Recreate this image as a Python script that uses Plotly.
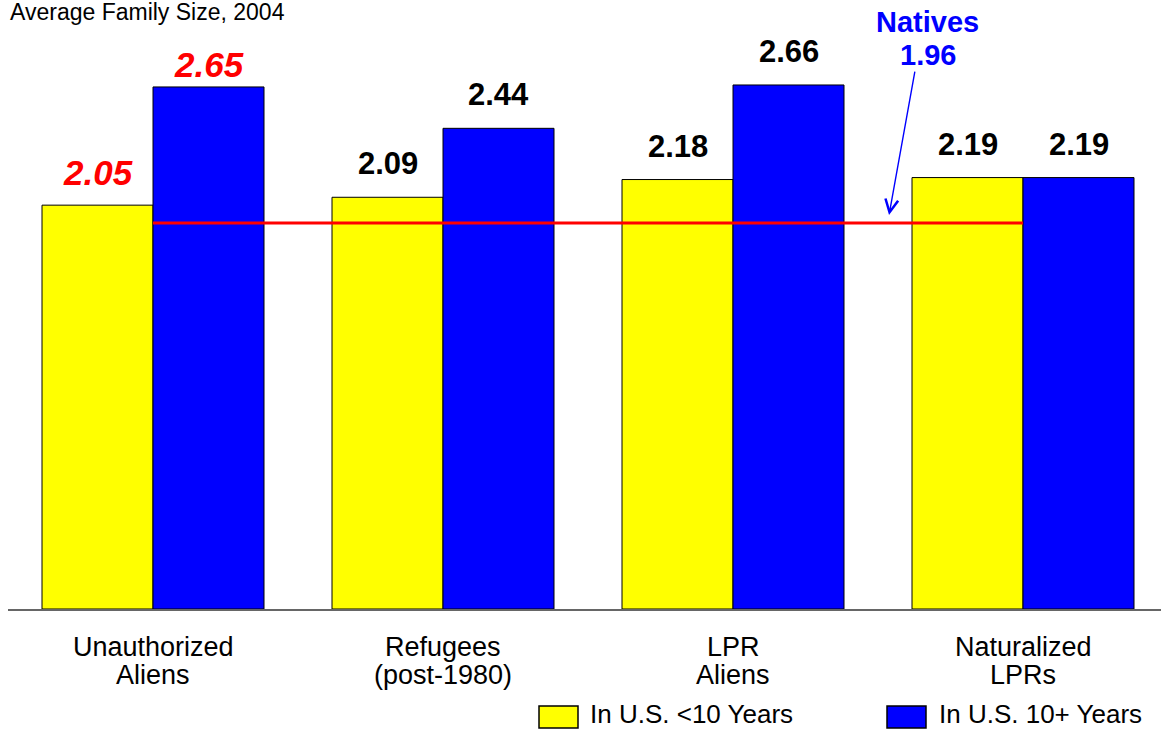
import plotly.graph_objects as go

categories = ["Unauthorized Aliens", "Refugees (post-1980)", "LPR Aliens", "Naturalized LPRs"]
label_line1 = ["Unauthorized", "Refugees", "LPR", "Naturalized"]
label_line2 = ["Aliens", "(post-1980)", "Aliens", "LPRs"]
under10 = [2.05, 2.09, 2.18, 2.19]
over10 = [2.65, 2.44, 2.66, 2.19]
natives_value = 1.96
series_names = ["In U.S. <10 Years", "In U.S. 10+ Years"]
title_text = "Average Family Size, 2004"

YELLOW = "#ffff00"
BLUE = "#0000ff"
RED = "#ff0000"
FONT = "Arial, Liberation Sans, sans-serif"
BARGAP = 68 / 290

fig = go.Figure()
fig.add_trace(go.Bar(x=categories, y=under10, name=series_names[0],
                     marker=dict(color=YELLOW, line=dict(color="black", width=1))))
fig.add_trace(go.Bar(x=categories, y=over10, name=series_names[1],
                     marker=dict(color=BLUE, line=dict(color="black", width=1))))
# Natives reference line from first to last category center
fig.add_trace(go.Scatter(x=[categories[0], categories[-1]], y=[natives_value, natives_value],
                         mode="lines", line=dict(color=RED, width=3), showlegend=False,
                         hoverinfo="skip"))


def px_to_xp(px):
    return (px - 8) / 1153


def py_to_yp(py):
    return (609 - py) / 591


annotations = []
half = (1 - BARGAP) / 4
# value labels
for i, cat in enumerate(categories):
    for j, (vals, off) in enumerate([(under10, -half), (over10, half)]):
        v = vals[i]
        if i == 0:
            txt = f"<b><i>{v:.2f}</i></b>"
            col = RED
            size = 35
            ysh = 11 if j == 0 else 1
        else:
            txt = f"<b>{v:.2f}</b>"
            col = "black"
            size = 31
            ysh = 14
        annotations.append(dict(x=i + off, y=v, xref="x", yref="y", text=txt,
                                showarrow=False, yanchor="bottom", yshift=ysh,
                                font=dict(family=FONT, size=size, color=col)))

# category labels (two lines, tight spacing)
for i, cat in enumerate(categories):
    annotations.append(dict(x=i, y=py_to_yp(647), xref="x", yref="paper", text=label_line1[i],
                            showarrow=False, yanchor="middle",
                            font=dict(family=FONT, size=27, color="black")))
    annotations.append(dict(x=i, y=py_to_yp(675), xref="x", yref="paper", text=label_line2[i],
                            showarrow=False, yanchor="middle",
                            font=dict(family=FONT, size=27, color="black")))

# Natives label
annotations.append(dict(x=2.672, y=(609 - 22) / 197, xref="x", yref="y", text="<b>Natives</b>",
                        showarrow=False, font=dict(family=FONT, size=29, color=BLUE)))
annotations.append(dict(x=2.672, y=(609 - 55) / 197, xref="x", yref="y",
                        text=f"<b>{natives_value:.2f}</b>",
                        showarrow=False, font=dict(family=FONT, size=29, color=BLUE)))
annotations.append(dict(x=2.538, y=2.0, xref="x", yref="y", ax=2.628, ay=2.736,
                        axref="x", ayref="y", text="", showarrow=True,
                        arrowhead=5, arrowsize=1.8, arrowwidth=1.4, arrowcolor=BLUE))

# title
annotations.append(dict(x=0, y=py_to_yp(12), xref="paper", yref="paper", text=title_text,
                        showarrow=False, xanchor="left", yanchor="middle",
                        font=dict(family=FONT, size=23, color="black")))

# legend (manual)
shapes = []
legend_items = [
    (YELLOW, series_names[0], 539, 578, 589),
    (BLUE, series_names[1], 887, 926, 938),
]
for col, name, x0, x1, tx in legend_items:
    shapes.append(dict(type="rect", xref="paper", yref="paper",
                       x0=px_to_xp(x0), x1=px_to_xp(x1), y0=py_to_yp(728), y1=py_to_yp(706),
                       fillcolor=col, line=dict(color="black", width=1.5)))
    annotations.append(dict(x=px_to_xp(tx), y=py_to_yp(714), xref="paper", yref="paper",
                            text=name, showarrow=False, xanchor="left", yanchor="middle",
                            borderpad=0,
                            font=dict(family=FONT, size=26, color="black")))

fig.update_layout(
    width=1161, height=730,
    margin=dict(l=8, r=0, t=18, b=121),
    paper_bgcolor="white", plot_bgcolor="white",
    barmode="group", bargap=BARGAP, bargroupgap=0,
    showlegend=False,
    annotations=annotations, shapes=shapes,
    font=dict(family=FONT, color="black"),
)
fig.update_xaxes(range=[-0.5, -0.5 + 1153 / 290], tickvals=categories,
                 showticklabels=False,
                 showline=True, linecolor="#666666", linewidth=2, ticks="",
                 showgrid=False, zeroline=False)
fig.update_yaxes(range=[0, 3], visible=False, showgrid=False, zeroline=False)

fig.write_html("out.html", config={"displayModeBar": False},
               post_script="document.body.style.margin='0';document.body.style.overflow='hidden';")
